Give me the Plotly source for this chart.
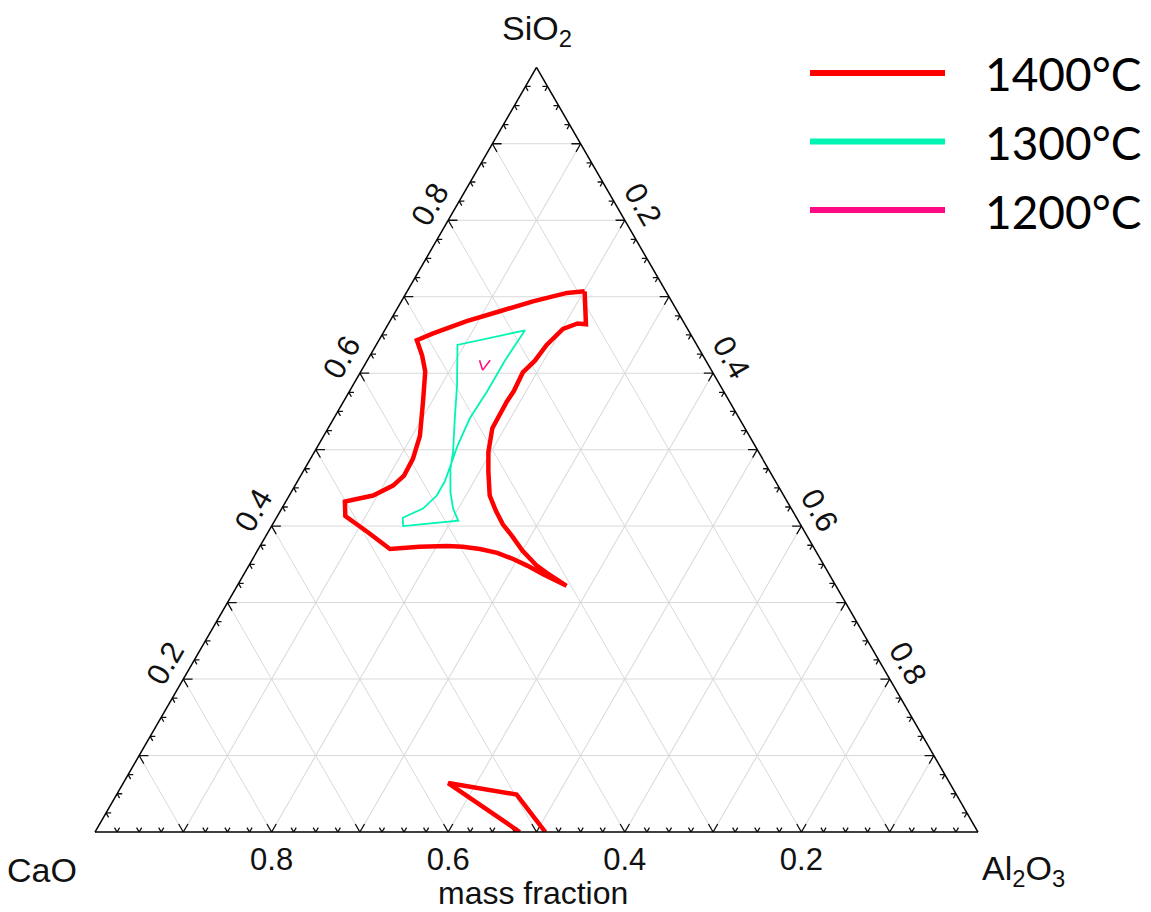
import plotly.graph_objects as go

# Liquid-region boundaries in the CaO-Al2O3-SiO2 system (mass fractions)
series_names = ["1400°C", "1300°C", "1200°C"]
series_colors = ["#ff0000", "#00f5b4", "#ff0a84"]

# 1400°C, main liquid field (closed loop)
sio2_1400 = [0.707, 0.664, 0.665, 0.658, 0.637, 0.616, 0.601, 0.577, 0.563, 0.528,
             0.497, 0.471, 0.440, 0.420, 0.402, 0.386, 0.368, 0.349, 0.339, 0.322,
             0.337, 0.348, 0.357, 0.365, 0.370, 0.373, 0.374, 0.373, 0.370, 0.392,
             0.413, 0.432, 0.440, 0.453, 0.466, 0.488, 0.518, 0.563, 0.602, 0.623,
             0.643, 0.652, 0.668, 0.681, 0.694, 0.705, 0.707]
cao_1400 = [0.092, 0.112, 0.121, 0.141, 0.170, 0.194, 0.215, 0.237, 0.252, 0.286,
            0.306, 0.319, 0.333, 0.336, 0.337, 0.334, 0.332, 0.326, 0.319, 0.305,
            0.324, 0.336, 0.348, 0.362, 0.379, 0.397, 0.414, 0.446, 0.481, 0.495,
            0.510, 0.501, 0.465, 0.436, 0.417, 0.396, 0.373, 0.347, 0.325, 0.318,
            0.314, 0.291, 0.245, 0.201, 0.157, 0.113, 0.092]
al2o3_1400 = [0.201, 0.224, 0.214, 0.201, 0.193, 0.190, 0.184, 0.186, 0.185, 0.186,
              0.197, 0.210, 0.227, 0.244, 0.261, 0.280, 0.300, 0.325, 0.342, 0.373,
              0.339, 0.316, 0.295, 0.273, 0.251, 0.230, 0.212, 0.181, 0.149, 0.113,
              0.077, 0.067, 0.095, 0.111, 0.117, 0.116, 0.109, 0.090, 0.073, 0.059,
              0.043, 0.057, 0.087, 0.118, 0.149, 0.182, 0.201]

# 1400°C, small field near the CaO-Al2O3 side
sio2_1400b = [0.000, 0.064, 0.049, 0.000]
cao_1400b = [0.519, 0.568, 0.498, 0.490]
al2o3_1400b = [0.481, 0.368, 0.453, 0.510]

# 1300°C liquid field (closed loop)
sio2_1300 = [0.656, 0.637, 0.584, 0.541, 0.497, 0.475, 0.445, 0.423, 0.407, 0.400,
             0.411, 0.423, 0.440, 0.458, 0.479, 0.505, 0.541, 0.576, 0.616, 0.656]
cao_1300 = [0.185, 0.271, 0.298, 0.322, 0.346, 0.360, 0.375, 0.383, 0.385, 0.451,
            0.446, 0.417, 0.393, 0.375, 0.358, 0.337, 0.305, 0.268, 0.228, 0.185]
al2o3_1300 = [0.159, 0.092, 0.118, 0.137, 0.157, 0.165, 0.180, 0.194, 0.208, 0.149,
              0.143, 0.160, 0.167, 0.167, 0.163, 0.158, 0.154, 0.156, 0.156, 0.159]

# 1200°C liquid field
sio2_1200 = [0.617, 0.604, 0.617]
cao_1200 = [0.256, 0.259, 0.244]
al2o3_1200 = [0.127, 0.137, 0.139]

tick_labels = ["", "0.2", "", "0.4", "", "0.6", "", "0.8", ""]
tick_values = [0.1, 0.2, 0.3, 0.4, 0.5, 0.6, 0.7, 0.8, 0.9]

FONT = "Liberation Sans, Arial, sans-serif"
W, H = 1151, 912

fig = go.Figure()

# Inward "arrow" ticks along the three edges, drawn along the two grid directions
tick_a, tick_b, tick_c = [], [], []
for k in range(1, 40):
    t = k * 0.025
    d = 0.0105 if k % 4 == 0 else 0.0058
    # bottom edge (SiO2 = 0)
    tick_a += [d, 0, d, None]
    tick_b += [t, t, t - d, None]
    tick_c += [1 - t - d, 1 - t, 1 - t, None]
    # left edge (Al2O3 = 0)
    tick_a += [t, t, t - d, None]
    tick_b += [1 - t - d, 1 - t, 1 - t, None]
    tick_c += [d, 0, d, None]
    # right edge (CaO = 0)
    tick_a += [t, t, t - d, None]
    tick_b += [d, 0, d, None]
    tick_c += [1 - t - d, 1 - t, 1 - t, None]

fig.add_trace(go.Scatterternary(
    a=tick_a, b=tick_b, c=tick_c, mode="lines",
    line=dict(color="#111111", width=1.3), connectgaps=False,
    hoverinfo="skip", showlegend=False))

fig.add_trace(go.Scatterternary(
    a=sio2_1400, b=cao_1400, c=al2o3_1400, mode="lines", name=series_names[0],
    line=dict(color=series_colors[0], width=4.5), showlegend=False))
fig.add_trace(go.Scatterternary(
    a=sio2_1400b, b=cao_1400b, c=al2o3_1400b, mode="lines", name=series_names[0],
    line=dict(color=series_colors[0], width=4.5), showlegend=False))
fig.add_trace(go.Scatterternary(
    a=sio2_1300, b=cao_1300, c=al2o3_1300, mode="lines", name=series_names[1],
    line=dict(color=series_colors[1], width=1.8), showlegend=False))
fig.add_trace(go.Scatterternary(
    a=sio2_1200, b=cao_1200, c=al2o3_1200, mode="lines", name=series_names[2],
    line=dict(color=series_colors[2], width=1.6), showlegend=False))

axis_common = dict(
    min=0, showline=True, linecolor="black", linewidth=1.5,
    showgrid=True, gridcolor="#d9d9d9", gridwidth=1,
    ticks="", tickmode="array", tickvals=tick_values, ticktext=tick_labels,
    tickfont=dict(family=FONT, size=31, color="#111111"),
    title=dict(text=""),
)

fig.update_layout(
    width=W, height=H,
    margin=dict(l=0, r=0, t=0, b=0),
    paper_bgcolor="white",
    showlegend=False,
    ternary=dict(
        sum=1,
        bgcolor="white",
        domain=dict(x=[95 / W, 978 / W], y=[(H - 832) / H, (H - 67.3) / H]),
        aaxis=dict(axis_common, tickangle=-60),
        baxis=dict(axis_common, tickangle=0),
        caxis=dict(axis_common, tickangle=60),
    ),
)

# Vertex titles
titles = [("SiO<sub>2</sub>", 537, 30), ("CaO", 42, 870),
          ("Al<sub>2</sub>O<sub>3</sub>", 1023, 870)]
for text, px, py in titles:
    fig.add_annotation(x=px / W, y=1 - py / H, xref="paper", yref="paper",
                       text=text, showarrow=False, xanchor="center", yanchor="middle",
                       font=dict(family=FONT, size=34, color="#111111"))

# Caption under the bottom axis
fig.add_annotation(x=533 / W, y=0, xref="paper", yref="paper",
                   text="mass fraction", showarrow=False, xanchor="center",
                   yanchor="bottom", borderpad=0,
                   font=dict(family=FONT, size=32, color="#111111"))

# Legend: long line samples with large labels
for i, (name, color) in enumerate(zip(series_names, series_colors)):
    ly = 73 + i * 68.5
    fig.add_shape(type="line", xref="paper", yref="paper",
                  x0=810 / W, x1=945 / W, y0=1 - ly / H, y1=1 - ly / H,
                  line=dict(color=color, width=6))
    fig.add_annotation(x=983 / W, y=1 - (ly + 1) / H, xref="paper", yref="paper",
                       text=name, showarrow=False, xanchor="left", yanchor="middle",
                       font=dict(family="Lato, Carlito, sans-serif", size=46, color="black"))

fig.write_html("out.html")
